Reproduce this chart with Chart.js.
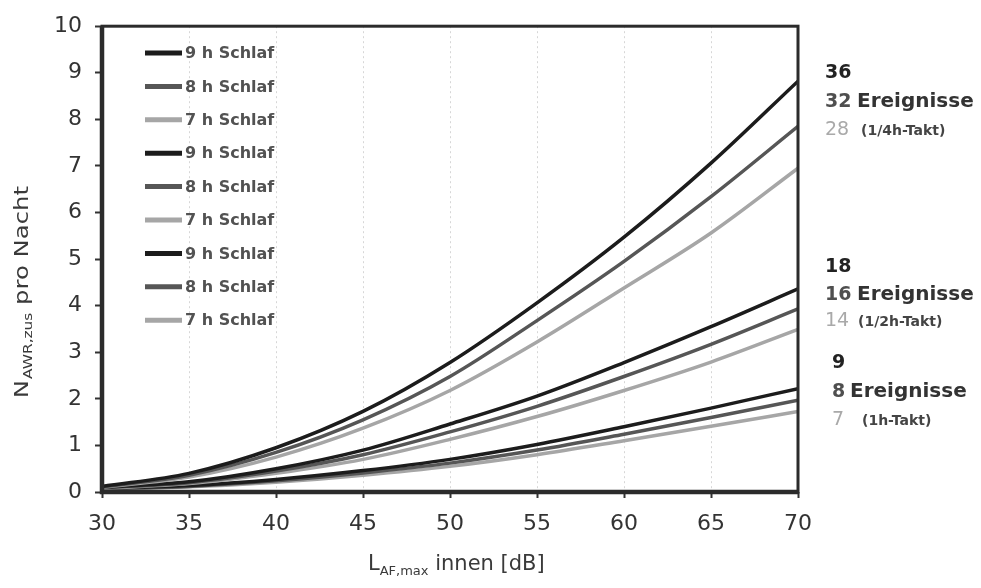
<!DOCTYPE html>
<html lang="de">
<head>
    <meta charset="UTF-8">
    <title>NAWR,zus pro Nacht</title>
    <script src="https://cdn.jsdelivr.net/npm/chart.js@4.4.1/dist/chart.umd.min.js"></script>
    <style>
        body {
            margin: 0;
            background: #ffffff;
        }
        #chart {
            display: block;
        }
    </style>
</head>
<body>
    <canvas id="chart" width="981" height="588"></canvas>

    <script>
        // x values: L_AF,max innen in dB
        const dbLevels = [30, 35, 40, 45, 50, 55, 60, 65, 70];
        const yTicks = [0, 1, 2, 3, 4, 5, 6, 7, 8, 9, 10];
        const sleepLabels = ['9 h Schlaf', '8 h Schlaf', '7 h Schlaf'];

        // 1/4h-Takt (36 / 32 / 28 Ereignisse)
        const quarter9h = [0.12, 0.40, 0.95, 1.73, 2.78, 4.06, 5.47, 7.06, 8.82];
        const quarter8h = [0.11, 0.36, 0.85, 1.55, 2.48, 3.68, 4.95, 6.34, 7.85];
        const quarter7h = [0.10, 0.32, 0.75, 1.37, 2.18, 3.22, 4.38, 5.56, 6.95];

        // 1/2h-Takt (18 / 16 / 14 Ereignisse)
        const half9h = [0.10, 0.22, 0.50, 0.90, 1.46, 2.06, 2.78, 3.55, 4.36];
        const half8h = [0.09, 0.20, 0.45, 0.80, 1.29, 1.84, 2.48, 3.17, 3.93];
        const half7h = [0.08, 0.18, 0.40, 0.70, 1.13, 1.62, 2.18, 2.79, 3.49];

        // 1h-Takt (9 / 8 / 7 Ereignisse)
        const hour9h = [0.08, 0.14, 0.27, 0.46, 0.70, 1.02, 1.40, 1.80, 2.22];
        const hour8h = [0.07, 0.12, 0.24, 0.41, 0.62, 0.90, 1.24, 1.60, 1.97];
        const hour7h = [0.06, 0.11, 0.21, 0.36, 0.55, 0.80, 1.10, 1.41, 1.73];

        const eventCounts = [['36', '32', '28'], ['18', '16', '14'], ['9', '8', '7']];
        const taktLabels = ['(1/4h-Takt)', '(1/2h-Takt)', '(1h-Takt)'];

        const lineColors = ['#1c1c1c', '#565656', '#a6a6a6'];
        const FONT = '"DejaVu Sans", Arial, sans-serif';

        function toPoints(values) {
            return dbLevels.map((x, i) => ({ x: x, y: values[i] }));
        }

        const groups = [
            [quarter9h, quarter8h, quarter7h],
            [half9h, half8h, half7h],
            [hour9h, hour8h, hour7h]
        ];
        const datasets = [];
        groups.forEach(group => {
            group.forEach((values, k) => {
                datasets.push({
                    label: sleepLabels[k],
                    data: toPoints(values),
                    borderColor: lineColors[k],
                    borderWidth: 3.5,
                    pointRadius: 0,
                    tension: 0.4,
                    cubicInterpolationMode: 'monotone',
                    fill: false
                });
            });
        });

        // legend inside the plot, frame, axis titles and the notes on the right
        const decorations = {
            id: 'decorations',
            afterDraw(chart) {
                const ctx = chart.ctx;
                const area = chart.chartArea;
                ctx.save();

                // frame
                ctx.strokeStyle = '#2b2b2b';
                ctx.lineWidth = 3;
                ctx.strokeRect(area.left, area.top, area.right - area.left, area.bottom - area.top);
                ctx.lineWidth = 4.5;
                ctx.beginPath();
                ctx.moveTo(area.left, area.top);
                ctx.lineTo(area.left, area.bottom);
                ctx.lineTo(area.right, area.bottom);
                ctx.stroke();

                // legend
                ctx.textBaseline = 'middle';
                ctx.textAlign = 'left';
                ctx.font = 'bold 16px ' + FONT;
                chart.data.datasets.forEach((ds, i) => {
                    const y = 53 + i * 33.4;
                    ctx.strokeStyle = ds.borderColor;
                    ctx.lineWidth = 5;
                    ctx.beginPath();
                    ctx.moveTo(145, y);
                    ctx.lineTo(182, y);
                    ctx.stroke();
                    ctx.fillStyle = '#525252';
                    ctx.fillText(ds.label, 185, y + 1);
                });

                // y axis title, rotated and a bit stretched like the scan
                ctx.save();
                ctx.translate(23, 287);
                ctx.rotate(-Math.PI / 2);
                ctx.scale(1.28, 1);
                ctx.fillStyle = '#3a3a3a';
                let x = -87;
                ctx.font = '19px ' + FONT;
                ctx.fillText('N', x, 0);
                x += ctx.measureText('N').width + 1;
                ctx.font = '12px ' + FONT;
                ctx.fillText('AWR,zus', x, 6);
                x += ctx.measureText('AWR,zus').width;
                ctx.font = '19px ' + FONT;
                ctx.fillText(' pro Nacht', x, 0);
                ctx.restore();

                // x axis title
                ctx.fillStyle = '#3a3a3a';
                let tx = 368;
                ctx.font = '21px ' + FONT;
                ctx.fillText('L', tx, 565);
                tx += ctx.measureText('L').width;
                ctx.font = '13px ' + FONT;
                ctx.fillText('AF,max', tx, 572);
                tx += ctx.measureText('AF,max').width;
                ctx.font = '21px ' + FONT;
                ctx.fillText(' innen [dB]', tx, 565);

                // notes on the right
                const rows = [[73, 102, 130], [267, 295, 321], [363, 392, 420]];
                const numX = [825, 825, 832];
                const wordX = [857, 857, 850];
                const taktX = [861, 858, 862];
                const numColors = ['#222222', '#4f4f4f', '#a9a9a9'];
                rows.forEach((r, g) => {
                    eventCounts[g].forEach((txt, k) => {
                        ctx.font = (k < 2 ? 'bold ' : '') + '19px ' + FONT;
                        ctx.fillStyle = numColors[k];
                        ctx.fillText(txt, numX[g], r[k]);
                    });
                    ctx.font = 'bold 20px ' + FONT;
                    ctx.fillStyle = '#333333';
                    ctx.fillText('Ereignisse', wordX[g], r[1]);
                    ctx.font = 'bold 14px ' + FONT;
                    ctx.fillStyle = '#444444';
                    ctx.fillText(taktLabels[g], taktX[g], r[2] + 1);
                });

                ctx.restore();
            }
        };

        new Chart(document.getElementById('chart'), {
            type: 'line',
            data: { datasets: datasets },
            options: {
                responsive: false,
                animation: false,
                layout: {
                    padding: { top: 19, right: 183, left: 0, bottom: 0 }
                },
                plugins: {
                    legend: { display: false },
                    tooltip: { enabled: false }
                },
                scales: {
                    x: {
                        type: 'linear',
                        min: dbLevels[0],
                        max: dbLevels[dbLevels.length - 1],
                        afterFit(scale) { scale.height = 96; },
                        afterBuildTicks(scale) {
                            scale.ticks = dbLevels.map(v => ({ value: v }));
                        },
                        ticks: {
                            font: { family: FONT, size: 22 },
                            color: '#333333',
                            padding: 13
                        },
                        grid: {
                            color: 'rgba(0,0,0,0.16)',
                            lineWidth: 1,
                            tickColor: '#333333',
                            tickLength: 6,
                            tickWidth: 2
                        },
                        border: { display: false, dash: [2, 3] }
                    },
                    y: {
                        min: 0,
                        max: 10,
                        afterFit(scale) { scale.width = 102; },
                        afterBuildTicks(scale) {
                            scale.ticks = yTicks.map(v => ({ value: v }));
                        },
                        ticks: {
                            font: { family: FONT, size: 22 },
                            color: '#333333',
                            padding: 13
                        },
                        grid: {
                            drawOnChartArea: false,
                            tickColor: '#333333',
                            tickLength: 7,
                            tickWidth: 2
                        },
                        border: { display: false }
                    }
                }
            },
            plugins: [decorations]
        });
    </script>
</body>
</html>
